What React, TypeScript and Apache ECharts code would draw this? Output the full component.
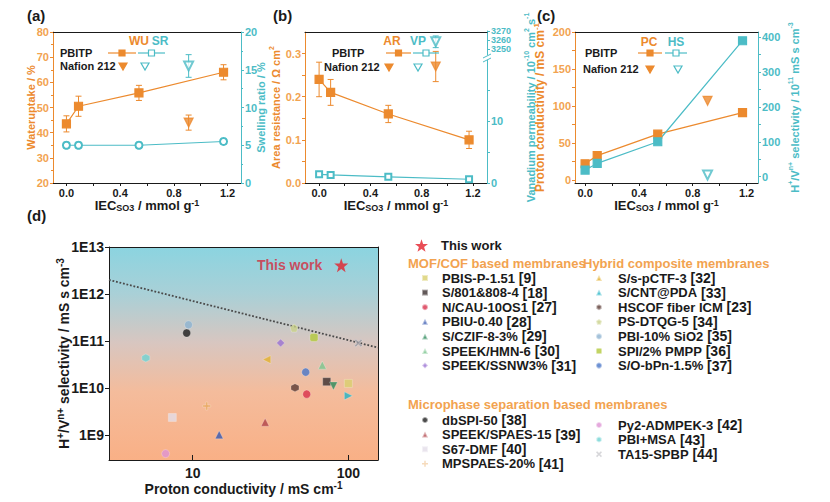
import * as echarts from 'echarts';
import { useEffect, useRef } from 'react';

// ---- (a)-(c): membrane properties vs IEC ----
const iec = [0, 0.09, 0.54, 1.17];
const nafionIec = [0.91];

const waterUptake = [43.5, 50.5, 55.8, 64.0];
const waterUptakeErr = [3.2, 4.0, 3.0, 3.0];
const nafionWaterUptake = [44.0];
const nafionWaterUptakeErr = [3.0];

const swellingRatio = [5.0, 5.0, 5.0, 5.5];
const swellingRatioErr = [0.4, 0.4, 0.4, 0.4];
const nafionSwellingRatio = [15.5];
const nafionSwellingRatioErr = [1.5];

const areaResistance = [0.24, 0.21, 0.16, 0.1];
const areaResistanceErr = [0.04, 0.03, 0.02, 0.02];
const nafionAreaResistance = [0.27];
const nafionAreaResistanceErr = [0.035];

const vanadiumPerm = [1.4, 1.3, 1.0, 0.6];
const nafionVanadiumPerm = [3258];
const nafionVanadiumPermErr = [6.5];

const protonCond = [22, 33, 62, 91];
const nafionProtonCond = [107];
const selectivity = [19, 38, 100, 389];
const nafionSelectivity = [5];

// tick labels
const iecTicks = [0, 0.2, 0.4, 0.6, 0.8, 1.0, 1.2];
const iecLabels = [0, 0.4, 0.8, 1.2];
const arLabels = [0, 0.1, 0.2, 0.3];
const arTicks = [0, 0.05, 0.1, 0.15, 0.2, 0.25, 0.3];
const vpLowLabels = [0, 10];
const vpLowTicks = [0, 5, 10, 15];
const vpHighLabels = [3250, 3260, 3270];
const pcLabels = [0, 50, 100, 150, 200];
const pcTicks = [0, 25, 50, 75, 100, 125, 150, 175, 200];
const hsLabels = [0, 100, 200, 300, 400];
const hsTicks = [0, 50, 100, 150, 200, 250, 300, 350, 400];

// ---- (d): selectivity vs proton conductivity ----
const refNames = [
  'PBIS-P-1.51 [9]', 'S/801&808-4 [18]', 'N/CAU-10OS1 [27]', 'PBIU-0.40 [28]',
  'S/CZIF-8-3% [29]', 'SPEEK/HMN-6 [30]', 'SPEEK/SSNW3% [31]',
  'S/s-pCTF-3 [32]', 'S/CNT@PDA [33]', 'HSCOF fiber ICM [23]', 'PS-DTQG-5 [34]',
  'PBI-10% SiO2 [35]', 'SPI/2% PMPP [36]', 'S/O-bPn-1.5% [37]',
  'dbSPI-50 [38]', 'SPEEK/SPAES-15 [39]', 'S67-DMF [40]', 'MPSPAES-20% [41]',
  'Py2-ADMPEK-3 [42]', 'PBI+MSA [43]', 'TA15-SPBP [44]',
];
const refConductivity = [100, 72.6, 54, 14.8, 80.2, 68, 36.7, 29.9, 100, 45.4, 44.8, 9.4, 60.1, 53.2, 9.15, 29.2, 7.4, 12.3, 6.7, 5.0, 116];
const refSelectivity = [
  1.27e10, 1.38e10, 7.5e9, 1.03e9, 1.12e10, 3.1e10, 9.2e10,
  4.07e10, 6.9e9, 1.03e10, 1.9e11, 2.23e11, 1.2e11, 2.2e10,
  1.49e11, 1.9e9, 2.4e9, 4.2e9, 4.1e8, 4.4e10, 9.1e10,
];
const thisWork = [[90, 4.1e12]];
const tradeOffLine = [[2.9, 2.0e12], [155, 7.3e10]];

// marker styles for the references
const HEX = 'path://M0,-10L8.66,-5L8.66,5L0,10L-8.66,5L-8.66,-5Z';
const PENT = 'path://M0,-10L9.5,-3.1L5.9,8.1L-5.9,8.1L-9.5,-3.1Z';
const PLUS = 'path://M-2,-8H2V-2H8V2H2V8H-2V2H-8V-2H-2Z';
const CROSS = 'path://M-8,-5L-5,-8L0,-3L5,-8L8,-5L3,0L8,5L5,8L0,3L-5,8L-8,5L-3,0Z';
const STAR = 'path://M0,-10L2.35,-3.24L9.51,-3.09L3.8,1.24L5.88,8.09L0,4L-5.88,8.09L-3.8,1.24L-9.51,-3.09L-2.35,-3.24Z';
const refSymbols = [
  'rect', 'rect', 'circle', 'triangle', 'triangle', 'triangle', 'diamond',
  'triangle', 'triangle', HEX, PENT, 'circle', 'roundRect', 'circle',
  'circle', 'triangle', 'rect', PLUS, 'circle', HEX, CROSS,
];
const refRotate = [0, 0, 0, 0, 180, 0, 0, 90, -90, 0, 0, 0, 0, 0, 0, 0, 0, 0, 0, 0, 0];
const refColors = [
  '#d9cf6e', '#3b3030', '#d8314c', '#3557b0', '#2c8a5a', '#7cc58e', '#9a72d2',
  '#e2b02e', '#22b4c6', '#5b3b35', '#c9d18a', '#8db3d1', '#b3c93c', '#4876c8',
  '#1e1e1e', '#b0444a', '#e4dde9', '#e9a95f', '#de94d4', '#6fd3d3', '#9f9fa6',
];

const FONT = '"Liberation Sans", Arial, sans-serif';
const ORANGE = '#ec8a2e';
const ORANGE_TXT = '#f2a350';
const TEAL = '#4cbcc6';
const INK = '#1a1a1a';

const nameStyle = (color: string, size: number, extra = 4) => {
  const base = { color, fontWeight: 'bold', fontFamily: FONT };
  return {
    ...base,
    fontSize: size,
    rich: {
      t: { ...base, fontSize: size, lineHeight: size + extra },
      p: { ...base, fontSize: size - 4, verticalAlign: 'top' },
      s: { ...base, fontSize: size - 4, verticalAlign: 'bottom' },
    },
  };
};

const IEC_NAME = '{t|IEC}{s|SO3}{t| / mmol g}{p|-1}';

const linAxis = (o: any) => ({
  type: 'value',
  gridIndex: o.grid,
  position: o.position,
  min: o.min,
  max: o.max,
  interval: o.interval,
  name: o.name ?? '',
  nameLocation: 'middle',
  nameGap: o.nameGap ?? 15,
  nameMoveOverlap: false,
  nameTextStyle: o.nameStyle,
  axisLine: { show: o.line !== false, onZero: false, lineStyle: { color: o.color ?? INK, width: 1 } },
  axisTick: { show: o.ticks !== false, customValues: o.tickValues, length: 3, lineStyle: { color: o.color ?? INK } },
  minorTick: { show: !!o.minor, splitNumber: 2, length: 2, lineStyle: { color: o.color ?? INK } },
  axisLabel: {
    show: o.labels !== false,
    customValues: o.labelValues,
    formatter: o.fmt ?? ((v: number) => String(v)),
    color: o.labelColor ?? INK,
    fontSize: o.labelSize ?? 11,
    lineHeight: o.labelLineHeight,
    fontWeight: 'bold',
    fontFamily: FONT,
    margin: 4,
    hideOverlap: false,
    showMinLabel: true,
    showMaxLabel: true,
  },
  splitLine: { show: false },
});

const iecAxis = (grid: number, min: number, max: number, show = true) =>
  linAxis({
    grid, position: 'bottom', min, max, name: show ? IEC_NAME : '', nameGap: 15,
    nameStyle: nameStyle(INK, 13, 1), tickValues: iecTicks, labelValues: iecLabels,
    fmt: (v: number) => v.toFixed(1), line: show, ticks: show, labels: show,
  });
const topAxis = (grid: number, min: number, max: number) =>
  linAxis({ grid, position: 'top', min, max, ticks: false, labels: false });

const errorBars = (xi: number, yi: number, xs: number[], ys: number[], errs: number[], color: string) => ({
  type: 'custom',
  xAxisIndex: xi,
  yAxisIndex: yi,
  z: 1,
  encode: { x: 0, y: [1, 2] },
  data: xs.map((x, i) => [x, ys[i] - errs[i], ys[i] + errs[i]]),
  renderItem: (_p: any, api: any) => {
    const x = api.value(0);
    const hi = api.coord([x, api.value(2)]);
    const lo = api.coord([x, api.value(1)]);
    const style = { stroke: color, lineWidth: 1 };
    return {
      type: 'group',
      children: [
        { type: 'line', shape: { x1: hi[0], y1: hi[1], x2: lo[0], y2: lo[1] }, style },
        { type: 'line', shape: { x1: hi[0] - 3, y1: hi[1], x2: hi[0] + 3, y2: hi[1] }, style },
        { type: 'line', shape: { x1: lo[0] - 3, y1: lo[1], x2: lo[0] + 3, y2: lo[1] }, style },
      ],
    };
  },
});

const pairs = (xs: number[], ys: number[]) => xs.map((x, i) => [x, ys[i]]);

const lineSeries = (xi: number, yi: number, ys: number[], color: string, symbol: string, size = 8) => ({
  type: 'line', xAxisIndex: xi, yAxisIndex: yi, z: 3,
  data: pairs(iec, ys), symbol, symbolSize: size,
  itemStyle: { color, borderColor: color, borderWidth: 1.2 },
  lineStyle: { color, width: 1.2 },
});
const nafionSeries = (xi: number, yi: number, ys: number[], color: string, empty: boolean) => ({
  type: 'scatter', xAxisIndex: xi, yAxisIndex: yi, z: 3,
  data: pairs(nafionIec, ys), symbol: empty ? 'emptyTriangle' : 'triangle', symbolRotate: 180, symbolSize: 9,
  itemStyle: { color, borderColor: color, borderWidth: 1.2 },
});

// graphic helpers
const txt = (text: string, x: number, y: number, fill: string, size: number, align = 'left') => ({
  type: 'text', x, y, z: 50,
  style: { text, fill, font: `bold ${size}px ${FONT}`, align, verticalAlign: 'middle' },
});
const seg = (x1: number, x2: number, y: number, stroke: string) => ({
  type: 'line', z: 50, shape: { x1, y1: y, x2, y2: y }, style: { stroke, lineWidth: 1.2 },
});
const sq = (cx: number, cy: number, color: string, filled: boolean) => ({
  type: 'rect', z: 51, shape: { x: cx - 3, y: cy - 3, width: 6, height: 6 },
  style: { fill: filled ? color : '#fff', stroke: color, lineWidth: 1.2 },
});
const tri = (cx: number, cy: number, color: string, filled: boolean) => ({
  type: 'polygon', z: 51, shape: { points: [[cx - 4, cy - 3], [cx + 4, cy - 3], [cx, cy + 4]] },
  style: { fill: filled ? color : '#fff', stroke: color, lineWidth: 1.2 },
});

const miniLegend = (p: any) => [
  txt(p.h1, p.h1x, p.hy, ORANGE, 12, 'center'),
  txt(p.h2, p.h2x, p.hy, TEAL, 12, 'center'),
  txt('PBITP', p.t1x, p.y1, INK, 11),
  txt('Nafion 212', p.t2x, p.y2, INK, 11),
  seg(p.l1[0], p.l1[1], p.y1, ORANGE),
  sq((p.l1[0] + p.l1[1]) / 2, p.y1, ORANGE, true),
  seg(p.l2[0], p.l2[1], p.y1, TEAL),
  sq((p.l2[0] + p.l2[1]) / 2, p.y1, TEAL, false),
  tri(p.m1, p.y2, ORANGE, true),
  tri(p.m2, p.y2, TEAL, false),
];

const refLegend = (names: string[], left: number, top: number, pad: number) => ({
  data: names,
  orient: 'vertical',
  left,
  top,
  padding: 0,
  itemGap: 0.6,
  itemWidth: 6,
  itemHeight: 6,
  selectedMode: false,
  formatter: (name: string) => {
    const i = name.lastIndexOf(' [');
    return i < 0 ? `{n|${name}}` : `{n|${name.slice(0, i)}}{r| ${name.slice(i + 1)}}`;
  },
  textStyle: {
    rich: {
      n: { fontSize: 13, fontWeight: 'bold', fontFamily: FONT, color: INK, lineHeight: 16, padding: [0, 0, 0, pad] },
      r: { fontSize: 14, fontWeight: 'bold', fontFamily: FONT, color: INK, lineHeight: 16 },
    },
  },
});

const App = () => {
  const chartRef = useRef<HTMLDivElement>(null);

  useEffect(() => {
    if (!chartRef.current) return;
    const chart = echarts.init(chartRef.current, undefined, { renderer: 'svg' });

    const bgGradient = new echarts.graphic.LinearGradient(0, 0, 0, 1, [
      { offset: 0, color: '#8bd4e0' },
      { offset: 0.22, color: '#a9d0d7' },
      { offset: 0.45, color: '#d8c6c0' },
      { offset: 0.68, color: '#f4bc9c' },
      { offset: 1, color: '#f9b086' },
    ]);

    chart.setOption({
      animation: false,
      backgroundColor: '#fff',
      textStyle: { fontFamily: FONT, fontWeight: 'bold' },
      grid: [
        { left: 53, top: 32, width: 188, height: 151 },
        { left: 305, top: 32, width: 182, height: 151 },
        { left: 305, top: 60, width: 182, height: 123 },
        { left: 305, top: 31, width: 182, height: 24 },
        { left: 575, top: 32, width: 183, height: 151 },
        { left: 109, top: 247, width: 269, height: 213, show: true, backgroundColor: bgGradient, borderWidth: 0 },
      ],
      xAxis: [
        iecAxis(0, -0.1, 1.3),
        topAxis(0, -0.1, 1.3),
        iecAxis(1, -0.11, 1.31),
        topAxis(1, -0.11, 1.31),
        iecAxis(2, -0.11, 1.31, false),
        iecAxis(3, -0.11, 1.31, false),
        iecAxis(4, -0.075, 1.285),
        topAxis(4, -0.075, 1.285),
        {
          type: 'log', gridIndex: 5, min: 2.9, max: 155, logBase: 10,
          name: '{t|Proton conductivity / mS cm}{p|-1}', nameLocation: 'middle', nameGap: 20, nameMoveOverlap: false,
          nameTextStyle: nameStyle(INK, 14),
          axisLine: { onZero: false, lineStyle: { color: INK } },
          axisTick: { inside: true, length: 5, lineStyle: { color: INK } },
          axisLabel: { color: INK, fontSize: 14, fontWeight: 'bold', fontFamily: FONT, margin: 6, showMinLabel: false, showMaxLabel: false },
          splitLine: { show: false },
        },
        {
          type: 'log', gridIndex: 5, position: 'top', min: 2.9, max: 155,
          axisLine: { onZero: false, lineStyle: { color: INK } },
          axisTick: { show: false }, axisLabel: { show: false }, splitLine: { show: false },
        },
      ],
      yAxis: [
        linAxis({
          grid: 0, position: 'left', min: 20, max: 80, interval: 10, minor: true, color: ORANGE, labelColor: ORANGE_TXT,
          name: 'Wateruptake / %', nameGap: 17, nameStyle: nameStyle(ORANGE, 11),
        }),
        linAxis({
          grid: 0, position: 'right', min: 0, max: 20, interval: 5, minor: true, color: TEAL, labelColor: TEAL,
          name: 'Swelling ratio / %', nameGap: 14, nameStyle: nameStyle(TEAL, 11),
        }),
        linAxis({
          grid: 1, position: 'left', min: 0, max: 0.35, color: ORANGE, labelColor: ORANGE_TXT,
          labelValues: arLabels, tickValues: arTicks, fmt: (v: number) => v.toFixed(1),
          name: '{t|Area resistance / Ω cm}{p|2}', nameGap: 22, nameStyle: nameStyle(ORANGE, 11),
        }),
        linAxis({
          grid: 1, position: 'right', min: 0, max: 1, line: false, ticks: false, labels: false,
          name: '{t|Vanadium permeability / 10}{p|-10}{t| cm}{p|2}{t| s}{p|-1}', nameGap: 36,
          nameStyle: nameStyle(TEAL, 11),
        }),
        linAxis({
          grid: 2, position: 'right', min: 0, max: 19.8, color: TEAL, labelColor: TEAL,
          labelValues: vpLowLabels, tickValues: vpLowTicks,
        }),
        linAxis({
          grid: 3, position: 'right', min: 3243.3, max: 3270, color: TEAL, labelColor: TEAL,
          labelSize: 9, labelLineHeight: 8,
          labelValues: [vpHighLabels[0], vpHighLabels[2]], tickValues: vpHighLabels,
        }),
        linAxis({
          grid: 4, position: 'left', min: -4, max: 200, color: ORANGE, labelColor: ORANGE_TXT,
          labelValues: pcLabels, tickValues: pcTicks,
          name: '{t|Proton conductivity / mS cm}{p|-1}', nameGap: 27, nameStyle: nameStyle(ORANGE, 12),
        }),
        linAxis({
          grid: 4, position: 'right', min: -18, max: 414, color: TEAL, labelColor: TEAL,
          labelValues: hsLabels, tickValues: hsTicks,
          name: '{t|H}{p|+}{t|/V}{p|n+}{t| selectivity / 10}{p|11}{t| mS s cm}{p|-3}', nameGap: 29,
          nameStyle: nameStyle(TEAL, 11),
        }),
        {
          type: 'log', gridIndex: 5, min: 3e8, max: 1e13, logBase: 10,
          name: '{t|H}{p|+}{t|/V}{p|n+}{t| selectivity / mS s cm}{p|-3}', nameLocation: 'middle', nameGap: 36,
          nameMoveOverlap: false,
          nameTextStyle: nameStyle(INK, 14),
          axisLine: { onZero: false, lineStyle: { color: INK } },
          axisTick: { length: 4, lineStyle: { color: INK } },
          axisLabel: {
            color: INK, fontSize: 14, fontWeight: 'bold', fontFamily: FONT, margin: 5,
            showMinLabel: false, showMaxLabel: true,
            formatter: (v: number) => '1E' + Math.round(Math.log10(v)),
          },
          splitLine: { show: false },
        },
        {
          type: 'log', gridIndex: 5, position: 'right', min: 3e8, max: 1e13,
          axisLine: { onZero: false, lineStyle: { color: INK } },
          axisTick: { show: false }, axisLabel: { show: false }, splitLine: { show: false },
        },
        // middle label of the upper permeability segment (kept on its own axis so it is not dropped)
        linAxis({
          grid: 3, position: 'right', min: 3243.3, max: 3270, line: false, ticks: false,
          labelColor: TEAL, labelSize: 9, labelLineHeight: 8, labelValues: [vpHighLabels[1]],
        }),
      ],
      legend: [
        {
          data: ['This work'], orient: 'vertical', left: 415, top: 239, padding: 0,
          itemWidth: 13, itemHeight: 13, selectedMode: false,
          formatter: '{n|This work}',
          textStyle: { rich: { n: { fontSize: 13, fontWeight: 'bold', fontFamily: FONT, color: INK, lineHeight: 16, padding: [0, 0, 0, 8] } } },
        },
        refLegend(refNames.slice(0, 7), 421, 271, 9),
        refLegend(refNames.slice(7, 14), 595, 271, 11),
        refLegend(refNames.slice(14, 18), 421, 413, 9),
        refLegend(refNames.slice(18), 595, 418, 11),
      ],
      series: [
        // (a)
        errorBars(0, 0, iec, waterUptake, waterUptakeErr, ORANGE),
        errorBars(0, 0, nafionIec, nafionWaterUptake, nafionWaterUptakeErr, ORANGE),
        errorBars(0, 1, iec, swellingRatio, swellingRatioErr, TEAL),
        errorBars(0, 1, nafionIec, nafionSwellingRatio, nafionSwellingRatioErr, TEAL),
        lineSeries(0, 0, waterUptake, ORANGE, 'rect'),
        lineSeries(0, 1, swellingRatio, TEAL, 'emptyCircle', 7),
        nafionSeries(0, 0, nafionWaterUptake, ORANGE, false),
        nafionSeries(0, 1, nafionSwellingRatio, TEAL, true),
        // (b)
        errorBars(2, 2, iec, areaResistance, areaResistanceErr, ORANGE),
        errorBars(2, 2, nafionIec, nafionAreaResistance, nafionAreaResistanceErr, ORANGE),
        errorBars(5, 5, nafionIec, nafionVanadiumPerm, nafionVanadiumPermErr, TEAL),
        lineSeries(2, 2, areaResistance, ORANGE, 'rect'),
        lineSeries(4, 4, vanadiumPerm, TEAL, 'emptyRect', 6),
        nafionSeries(2, 2, nafionAreaResistance, ORANGE, false),
        nafionSeries(5, 5, nafionVanadiumPerm, TEAL, true),
        // (c)
        lineSeries(6, 6, protonCond, ORANGE, 'rect'),
        lineSeries(6, 7, selectivity, TEAL, 'rect'),
        nafionSeries(6, 6, nafionProtonCond, ORANGE, false),
        nafionSeries(6, 7, nafionSelectivity, TEAL, true),
        // (d)
        {
          type: 'line', xAxisIndex: 8, yAxisIndex: 8, data: tradeOffLine, showSymbol: false, z: 2,
          lineStyle: { color: '#4a4a4a', width: 1.8, type: 'dotted' },
        },
        ...refNames.map((name, i) => ({
          name, type: 'scatter', xAxisIndex: 8, yAxisIndex: 8, z: 3,
          data: [[refConductivity[i], refSelectivity[i]]],
          symbol: refSymbols[i], symbolRotate: refRotate[i], symbolSize: 8,
          itemStyle: { color: refColors[i], borderColor: 'rgba(255,255,255,0.6)', borderWidth: 0.5 },
        })),
        {
          name: 'This work', type: 'scatter', xAxisIndex: 8, yAxisIndex: 8, z: 4,
          data: thisWork, symbol: STAR, symbolSize: 14,
          itemStyle: { color: '#e3202c' },
          label: {
            show: true, position: 'left', distance: 12, formatter: 'This work',
            color: '#d42a3e', fontSize: 14, fontWeight: 'bold', fontFamily: FONT,
          },
        },
      ],
      graphic: [
        txt('(a)', 27, 15, INK, 15),
        txt('(b)', 273, 15, INK, 15),
        txt('(c)', 537, 15, INK, 15),
        txt('(d)', 27, 215, INK, 15),
        ...miniLegend({ h1: 'WU', h2: 'SR', h1x: 139, h2x: 160, hy: 41, t1x: 60, y1: 53, t2x: 60, y2: 66, l1: [108, 136], l2: [138, 165], m1: 123, m2: 145 }),
        ...miniLegend({ h1: 'AR', h2: 'VP', h1x: 392, h2x: 418, hy: 41, t1x: 332, y1: 53, t2x: 324, y2: 67, l1: [386, 411], l2: [413, 439], m1: 389, m2: 418 }),
        ...miniLegend({ h1: 'PC', h2: 'HS', h1x: 649, h2x: 676, hy: 42, t1x: 585, y1: 53, t2x: 583, y2: 69, l1: [638, 662], l2: [665, 687], m1: 650, m2: 678 }),
        // axis break on the permeability axis
        { type: 'rect', z: 60, shape: { x: 483, y: 55.5, width: 9, height: 4 }, style: { fill: '#fff' } },
        { type: 'line', z: 61, shape: { x1: 483, y1: 58, x2: 491, y2: 54 }, style: { stroke: TEAL, lineWidth: 1 } },
        { type: 'line', z: 61, shape: { x1: 483, y1: 62, x2: 491, y2: 58 }, style: { stroke: TEAL, lineWidth: 1 } },
        txt('MOF/COF based membranes', 408, 263, ORANGE_TXT, 13),
        txt('Hybrid composite membranes', 583, 263, ORANGE_TXT, 13),
        txt('Microphase separation based membranes', 408, 404, ORANGE_TXT, 13),
      ],
    });

    const onResize = () => chart.resize();
    window.addEventListener('resize', onResize);
    return () => {
      window.removeEventListener('resize', onResize);
      chart.dispose();
    };
  }, []);

  return <div ref={chartRef} style={{ position: 'fixed', left: 0, top: 0, width: 830, height: 502 }} />;
};

export default App;
